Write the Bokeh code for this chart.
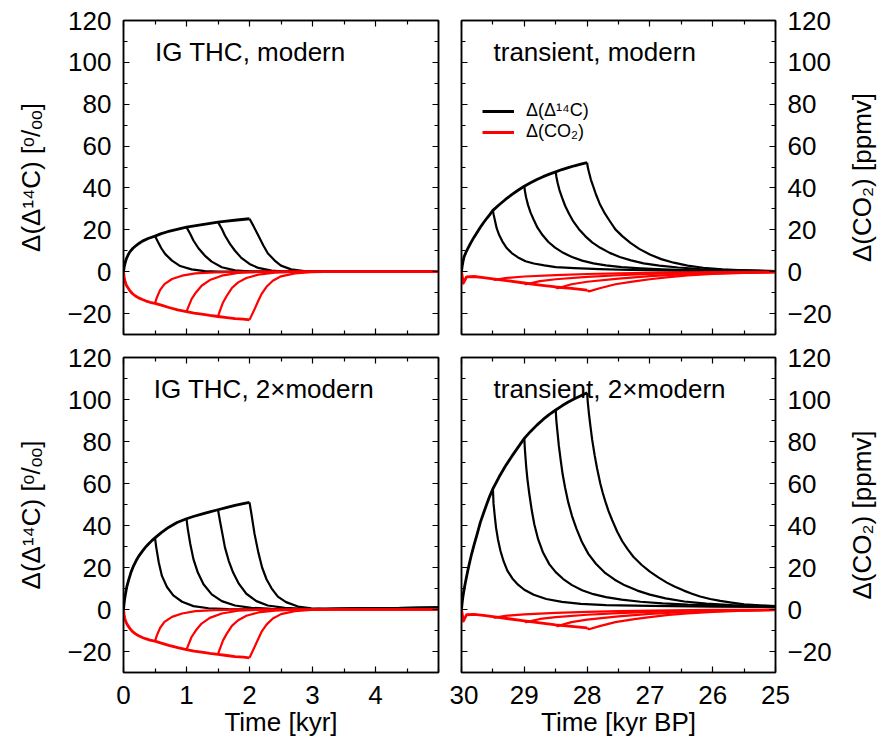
import math

from bokeh.embed import file_html
from bokeh.layouts import column, row
from bokeh.models import (FixedTicker, Label, Legend, LegendItem, LinearAxis,
                          Range1d)
from bokeh.plotting import figure
from bokeh.resources import INLINE

FONT = "Liberation Sans"

# ---------------------------------------------------------------------------
# Interglacial THC runs (time since start, kyr)
# ---------------------------------------------------------------------------
ig_mod_c14_t = [0, 0.01, 0.02, 0.035, 0.05, 0.075, 0.1, 0.15, 0.2, 0.25, 0.3,
                0.4, 0.5, 0.6, 0.7, 0.8, 0.9, 1.0, 1.2, 1.4, 1.5, 1.6, 1.8, 2.0]
ig_mod_c14 = [0, 2.0, 3.5, 5.2, 6.5, 8.1, 9.5, 11.2, 12.5, 13.6, 14.6,
              16.0, 17.0, 18.2, 19.1, 19.9, 20.6, 21.3, 22.3, 23.2, 23.7, 24.0,
              24.7, 25.3]
ig_mod_c14_off05_t = [0.5, 0.55, 0.6, 0.66, 0.77, 0.9, 1.08, 1.29, 1.5, 2.0, 5.0]
ig_mod_c14_off05 = [17.0, 14.1, 11.2, 8.5, 5.3, 2.7, 1.1, 0.3, 0.05, 0, 0]
ig_mod_c14_off10_t = [1.0, 1.06, 1.11, 1.19, 1.29, 1.4, 1.56, 1.77, 2.03, 2.5, 5.0]
ig_mod_c14_off10 = [21.3, 18.0, 14.9, 11.2, 7.7, 4.8, 2.1, 0.6, 0.1, 0, 0]
ig_mod_c14_off15_t = [1.5, 1.56, 1.61, 1.69, 1.77, 1.87, 2.0, 2.14, 2.35, 2.56, 3.0, 5.0]
ig_mod_c14_off15 = [23.7, 20.5, 17.3, 13.3, 10.0, 6.6, 3.7, 1.8, 0.5, 0.1, 0, 0]
ig_mod_c14_off20_t = [2.0, 2.06, 2.14, 2.22, 2.29, 2.4, 2.5, 2.66, 2.87, 3.08, 5.0]
ig_mod_c14_off20 = [25.3, 22.0, 17.3, 12.5, 8.8, 5.3, 2.9, 1.1, 0.3, 0, 0]

ig_2x_c14_t = [0, 0.01, 0.02, 0.03, 0.05, 0.08, 0.12, 0.16, 0.2, 0.24, 0.3,
               0.35, 0.4, 0.45, 0.5, 0.6, 0.72, 0.85, 1.0, 1.12, 1.24, 1.37,
               1.5, 1.63, 1.77, 1.9, 2.0]
ig_2x_c14 = [0, 3.0, 5.3, 7.2, 10.5, 13.9, 17.8, 20.8, 23.2, 25.3, 27.8,
             29.7, 31.3, 32.8, 34.1, 36.6, 39.2, 41.4, 43.2, 44.4, 45.4, 46.5,
             47.5, 48.5, 49.6, 50.4, 51.0]
ig_2x_c14_off05_t = [0.5, 0.52, 0.56, 0.61, 0.69, 0.79, 0.93, 1.11, 1.35, 1.66, 2.2, 3.0, 4.0, 5.0]
ig_2x_c14_off05 = [34.1, 29.6, 22.4, 16.0, 10.7, 6.7, 3.7, 1.6, 0.6, 0.2, 0.1, 0.2, 0.6, 0.9]
ig_2x_c14_off10_t = [1.0, 1.02, 1.06, 1.11, 1.18, 1.27, 1.4, 1.56, 1.77, 2.03, 2.35, 3.0, 4.0, 5.0]
ig_2x_c14_off10 = [43.2, 38.4, 31.2, 24.0, 17.6, 12.0, 7.2, 4.0, 1.9, 0.8, 0.3, 0.2, 0.6, 0.9]
ig_2x_c14_off15_t = [1.5, 1.53, 1.57, 1.61, 1.67, 1.74, 1.83, 1.95, 2.11, 2.29, 2.56, 2.87, 3.0, 4.0, 5.0]
ig_2x_c14_off15 = [47.5, 42.4, 36.0, 29.6, 23.2, 17.6, 12.3, 7.5, 4.0, 1.9, 0.8, 0.3, 0.2, 0.6, 0.9]
ig_2x_c14_off20_t = [2.0, 2.03, 2.08, 2.14, 2.2, 2.27, 2.35, 2.45, 2.58, 2.77, 2.98, 3.2, 4.0, 5.0]
ig_2x_c14_off20 = [51.0, 45.6, 36.0, 27.2, 20.0, 14.4, 10.1, 6.1, 3.5, 1.4, 0.5, 0.3, 0.6, 0.9]

ig_co2_t = [0, 0.01, 0.02, 0.04, 0.06, 0.1, 0.14, 0.19, 0.24, 0.3, 0.35, 0.42,
            0.5, 0.6, 0.72, 0.86, 1.0, 1.12, 1.24, 1.37, 1.5, 1.64, 1.77, 1.9, 2.0]
ig_co2 = [0, -2.5, -4.2, -6.0, -7.2, -9.0, -10.4, -11.6, -12.5, -13.3, -13.9,
          -14.6, -15.1, -16.0, -17.1, -18.2, -19.1, -19.8, -20.3, -20.9, -21.4,
          -21.9, -22.4, -22.7, -23.0]
ig_co2_off05_t = [0.5, 0.53, 0.58, 0.65, 0.77, 0.93, 1.14, 1.45, 1.77, 2.5, 5.0]
ig_co2_off05 = [-15.1, -12.3, -8.8, -5.9, -3.5, -1.9, -0.8, -0.3, -0.1, 0, 0]
ig_co2_off10_t = [1.0, 1.03, 1.08, 1.15, 1.24, 1.37, 1.56, 1.82, 2.14, 2.6, 5.0]
ig_co2_off10 = [-19.1, -16.8, -13.1, -9.9, -6.7, -4.0, -1.9, -0.6, -0.1, 0, 0]
ig_co2_off15_t = [1.5, 1.53, 1.58, 1.64, 1.72, 1.82, 1.95, 2.14, 2.4, 2.72, 3.2, 5.0]
ig_co2_off15 = [-21.4, -18.7, -14.7, -11.5, -7.8, -5.1, -3.0, -1.4, -0.5, -0.1, 0, 0]
ig_co2_off20_t = [2.0, 2.03, 2.08, 2.14, 2.19, 2.27, 2.37, 2.5, 2.72, 2.98, 3.4, 5.0]
ig_co2_off20 = [-23.0, -21.1, -17.9, -13.9, -10.7, -7.2, -4.3, -2.2, -0.8, -0.2, 0, 0]

# ---------------------------------------------------------------------------
# Transient runs (kyr BP)
# ---------------------------------------------------------------------------
tr_mod_c14_t = [30.0, 29.99, 29.98, 29.96, 29.93, 29.9, 29.85, 29.8, 29.75,
                29.7, 29.65, 29.6, 29.55, 29.5, 29.4, 29.3, 29.2, 29.1, 29.0,
                28.9, 28.8, 28.7, 28.6, 28.5, 28.4, 28.3, 28.2, 28.1, 28.0]
tr_mod_c14 = [0, 2.5, 4.3, 7.0, 9.2, 11.0, 13.9, 16.5, 18.9, 21.2, 23.4,
              25.4, 27.3, 29.3, 32.0, 34.5, 36.8, 38.9, 40.8, 42.5, 44.0,
              45.4, 46.6, 47.7, 48.8, 49.7, 50.6, 51.4, 52.1]
tr_mod_c14_off295_t = [29.5, 29.49, 29.47, 29.44, 29.4, 29.35, 29.28, 29.2,
                       29.1, 28.98, 28.85, 28.68, 28.5, 28.2, 27.8, 27.3,
                       26.6, 25.8, 25.0]
tr_mod_c14_off295 = [29.3, 27.5, 24.8, 20.8, 17.5, 14.5, 11.3, 8.9, 6.8, 5.0,
                     3.9, 3.0, 2.2, 1.7, 1.2, 0.8, 0.5, 0.3, 0.2]
tr_mod_c14_off29_t = [29.0, 28.99, 28.97, 28.94, 28.9, 28.85, 28.79, 28.71,
                      28.62, 28.51, 28.38, 28.24, 28.08, 27.9, 27.7, 27.45,
                      27.15, 26.8, 26.3, 25.7, 25.0]
tr_mod_c14_off29 = [40.8, 38.5, 35.3, 31.8, 28.2, 24.8, 21.0, 17.5, 14.3,
                    11.5, 9.0, 7.0, 5.3, 4.0, 3.0, 2.2, 1.6, 1.1, 0.7, 0.4, 0.2]
tr_mod_c14_off285_t = [28.5, 28.49, 28.47, 28.44, 28.4, 28.35, 28.29, 28.22,
                       28.13, 28.03, 27.92, 27.79, 27.64, 27.48, 27.3, 27.1,
                       26.85, 26.55, 26.2, 25.75, 25.3, 25.0]
tr_mod_c14_off285 = [47.7, 45.5, 42.5, 39.0, 35.5, 31.5, 27.8, 24.0, 20.3,
                     17.0, 14.0, 11.4, 9.0, 7.0, 5.4, 4.0, 2.9, 2.0, 1.3, 0.8,
                     0.5, 0.3]
tr_mod_c14_off28_t = [28.0, 27.99, 27.97, 27.94, 27.9, 27.86, 27.8, 27.73,
                      27.65, 27.55, 27.44, 27.31, 27.17, 27.0, 26.82, 26.62,
                      26.4, 26.15, 25.85, 25.5, 25.2, 25.0]
tr_mod_c14_off28 = [52.1, 50.0, 47.5, 44.0, 40.5, 37.0, 32.5, 28.5, 24.7,
                    20.2, 17.0, 13.8, 10.9, 8.2, 6.0, 4.3, 2.9, 1.9, 1.1,
                    0.6, 0.35, 0.25]

tr_2x_c14_t = [30.0, 29.99, 29.98, 29.97, 29.95, 29.93, 29.9, 29.87, 29.84,
               29.8, 29.75, 29.7, 29.65, 29.6, 29.55, 29.5, 29.4, 29.3, 29.2,
               29.1, 29.0, 28.9, 28.8, 28.7, 28.6, 28.5, 28.4, 28.3, 28.2,
               28.1, 28.0]
tr_2x_c14 = [0, 3.0, 5.5, 7.5, 11.0, 14.0, 18.5, 22.5, 26.3, 30.8, 36.0,
             41.5, 45.8, 50.0, 54.0, 57.5, 63.2, 68.3, 72.9, 77.2, 81.5, 84.8,
             87.8, 90.5, 92.9, 95.0, 97.0, 98.8, 100.4, 101.8, 103.2]
tr_2x_c14_off295_t = [29.5, 29.49, 29.47, 29.45, 29.42, 29.38, 29.33, 29.27,
                      29.19, 29.1, 29.0, 28.85, 28.65, 28.4, 28.1, 27.7, 27.0,
                      26.0, 25.0]
tr_2x_c14_off295 = [57.5, 50.4, 44.5, 39.0, 33.5, 28.0, 23.0, 18.5, 14.8,
                    11.8, 9.4, 7.0, 5.0, 3.6, 2.7, 2.1, 1.7, 1.4, 1.2]
tr_2x_c14_off29_t = [29.0, 28.99, 28.97, 28.95, 28.92, 28.88, 28.84, 28.78,
                     28.7, 28.6, 28.5, 28.38, 28.24, 28.08, 27.9, 27.7, 27.45,
                     27.15, 26.8, 26.4, 25.8, 25.0]
tr_2x_c14_off29 = [81.5, 76.0, 68.0, 62.0, 55.0, 47.0, 40.5, 33.5, 27.0,
                   21.5, 17.8, 14.5, 11.6, 9.2, 7.3, 5.9, 4.7, 3.7, 2.9, 2.3,
                   1.8, 1.3]
tr_2x_c14_off285_t = [28.5, 28.49, 28.47, 28.45, 28.42, 28.39, 28.35, 28.3,
                      28.24, 28.17, 28.08, 27.98, 27.86, 27.72, 27.56, 27.4,
                      27.2, 27.0, 26.75, 26.45, 26.1, 25.7, 25.3, 25.0]
tr_2x_c14_off285 = [95.0, 90.0, 84.0, 78.0, 71.0, 64.5, 58.0, 51.0, 44.5,
                    38.5, 32.0, 26.5, 21.8, 17.6, 14.2, 11.5, 9.0, 7.1, 5.3,
                    3.8, 2.8, 2.1, 1.7, 1.5]
tr_2x_c14_off28_t = [28.0, 27.99, 27.97, 27.95, 27.92, 27.88, 27.84, 27.79,
                     27.75, 27.71, 27.66, 27.6, 27.52, 27.44, 27.35, 27.26,
                     27.13, 27.0, 26.86, 26.73, 26.6, 26.46, 26.33, 26.2,
                     26.04, 25.88, 25.7, 25.5, 25.25, 25.0]
tr_2x_c14_off28 = [103.2, 99.0, 93.0, 88.0, 81.0, 73.5, 67.0, 60.0, 55.5,
                   51.5, 47.0, 42.5, 37.0, 32.5, 28.5, 25.0, 21.2, 18.0, 15.2,
                   12.8, 10.8, 9.0, 7.5, 6.2, 5.0, 4.1, 3.3, 2.5, 2.0, 1.6]

tr_co2_t = [30.0, 29.97, 29.92, 29.8, 29.65, 29.5, 29.25, 29.0, 28.75, 28.5, 28.25, 28.0]
tr_co2 = [0, -5.5, -2.5, -2.3, -2.8, -3.4, -4.4, -5.4, -6.4, -7.3, -8.0, -8.8]
tr_co2_off295_t = [29.5, 29.47, 29.3, 29.0, 28.5, 28.0, 27.5, 27.0, 26.0, 25.0]
tr_co2_off295 = [-3.4, -3.9, -3.0, -2.3, -1.6, -1.1, -0.8, -0.5, -0.2, -0.1]
tr_co2_off29_t = [29.0, 28.97, 28.75, 28.5, 28.0, 27.5, 27.0, 26.5, 26.0, 25.0]
tr_co2_off29 = [-5.4, -6.0, -4.5, -3.6, -2.5, -1.7, -1.1, -0.7, -0.4, -0.1]
tr_co2_off285_t = [28.5, 28.47, 28.25, 28.0, 27.5, 27.0, 26.5, 26.0, 25.5, 25.0]
tr_co2_off285 = [-7.3, -7.9, -6.0, -4.8, -3.3, -2.1, -1.3, -0.8, -0.5, -0.2]
tr_co2_off28_t = [28.0, 27.97, 27.8, 27.55, 27.25, 27.0, 26.7, 26.4, 26.0, 25.5, 25.0]
tr_co2_off28 = [-8.8, -9.4, -7.9, -6.0, -4.6, -3.6, -2.6, -1.8, -1.1, -0.6, -0.3]

# tick positions
y_major = [-20, 0, 20, 40, 60, 80, 100, 120]
y_minor = [-30, -10, 10, 30, 50, 70, 90, 110]
ig_x_major = [0, 1, 2, 3, 4]
ig_x_minor = [0.5, 1.5, 2.5, 3.5, 4.5, 5]
tr_x_major = [30, 29, 28, 27, 26, 25]
tr_x_minor = [29.5, 28.5, 27.5, 26.5, 25.5]

panel_titles = ["IG THC, modern", "transient, modern",
                "IG THC, 2\u00d7modern", "transient, 2\u00d7modern"]
c14_label = "\u0394(\u0394\u00b9\u2074C) [\u1d52/\u2092\u2092]"
co2_label = "\u0394(CO\u2082) [ppmv]"
legend_labels = ["\u0394(\u0394\u00b9\u2074C)", "\u0394(CO\u2082)"]

BLACK = "#000000"
RED = "#ff0000"


def make_axis(ticks, minor, show_labels, label=None):
    ax = LinearAxis(ticker=FixedTicker(ticks=ticks, minor_ticks=minor))
    ax.axis_line_color = BLACK
    ax.axis_line_width = 1.5
    ax.major_tick_in = 6
    ax.major_tick_out = 0
    ax.minor_tick_in = 4
    ax.minor_tick_out = 0
    ax.major_tick_line_color = BLACK
    ax.minor_tick_line_color = BLACK
    ax.major_tick_line_width = 1.2
    ax.minor_tick_line_width = 1.2
    if show_labels:
        ax.major_label_text_font = FONT
        ax.major_label_text_font_size = "26px"
        ax.major_label_text_color = BLACK
        ax.major_label_standoff = 12
    else:
        ax.major_label_text_font_size = "0px"
        ax.major_label_standoff = 0
        ax.major_label_text_alpha = 0
    if label is not None:
        ax.axis_label = label
        ax.axis_label_text_font = FONT
        ax.axis_label_text_font_size = "26px"
        ax.axis_label_text_font_style = "normal"
        ax.axis_label_text_color = BLACK
        ax.axis_label_standoff = 18
    return ax


def make_panel(x_range, frame_w, frame_h, borders):
    left, right, top, bottom = borders
    p = figure(frame_width=frame_w, frame_height=frame_h,
               x_range=x_range, y_range=Range1d(-30, 120),
               x_axis_location=None, y_axis_location=None,
               output_backend="svg", toolbar_location=None,
               min_border_left=left, min_border_right=right,
               min_border_top=top, min_border_bottom=bottom)
    p.grid.visible = False
    p.outline_line_color = BLACK
    p.outline_line_width = 1.5
    p.background_fill_color = "white"
    p.border_fill_color = "white"
    return p


def label_strip(frame_h, top, bottom, text):
    # narrow strip to the right of a panel carrying its right-hand axis title
    s = figure(frame_width=41, frame_height=frame_h,
               x_range=Range1d(0, 41), y_range=Range1d(0, frame_h),
               x_axis_location=None, y_axis_location=None,
               output_backend="svg", toolbar_location=None,
               min_border_left=0, min_border_right=0,
               min_border_top=top, min_border_bottom=bottom)
    s.grid.visible = False
    s.outline_line_color = None
    s.add_layout(Label(x=24, y=frame_h / 2, text=text, text_font=FONT,
                       text_font_size="26px", text_color=BLACK,
                       angle=math.pi / 2, text_align="center",
                       text_baseline="middle"))
    return s


def add_title(p, x, y, text):
    p.add_layout(Label(x=x, y=y, text=text, text_font=FONT,
                       text_font_size="26px", text_color=BLACK,
                       text_baseline="middle", text_align="left"))


def draw(p, series, color):
    rs = []
    for i, (xs, ys) in enumerate(series):
        width = 2.8 if i == 0 else 2.2
        rs.append(p.line(xs, ys, line_color=color, line_width=width,
                         line_join="round"))
    return rs


# --- top-left: IG THC, modern -------------------------------------------
p1 = make_panel(Range1d(0, 5), 315, 314, (123, 11, 20, 5))
p1.add_layout(make_axis(y_major, y_minor, True, c14_label), "left")
p1.add_layout(make_axis(y_major, y_minor, False), "right")
p1.add_layout(make_axis(ig_x_major, ig_x_minor, False), "below")
p1.add_layout(make_axis(ig_x_major, ig_x_minor, False), "above")
draw(p1, [(ig_mod_c14_t, ig_mod_c14), (ig_mod_c14_off05_t, ig_mod_c14_off05),
          (ig_mod_c14_off10_t, ig_mod_c14_off10), (ig_mod_c14_off15_t, ig_mod_c14_off15),
          (ig_mod_c14_off20_t, ig_mod_c14_off20)], BLACK)
draw(p1, [(ig_co2_t, ig_co2), (ig_co2_off05_t, ig_co2_off05),
          (ig_co2_off10_t, ig_co2_off10), (ig_co2_off15_t, ig_co2_off15),
          (ig_co2_off20_t, ig_co2_off20)], RED)
add_title(p1, 0.5, 105, panel_titles[0])

# --- top-right: transient, modern ---------------------------------------
p2 = make_panel(Range1d(30, 25), 314, 314, (12, 62, 20, 5))
p2.add_layout(make_axis(y_major, y_minor, True), "right")
p2.add_layout(make_axis(y_major, y_minor, False), "left")
p2.add_layout(make_axis(tr_x_major, tr_x_minor, False), "below")
p2.add_layout(make_axis(tr_x_major, tr_x_minor, False), "above")
blk = draw(p2, [(tr_mod_c14_t, tr_mod_c14), (tr_mod_c14_off295_t, tr_mod_c14_off295),
                (tr_mod_c14_off29_t, tr_mod_c14_off29), (tr_mod_c14_off285_t, tr_mod_c14_off285),
                (tr_mod_c14_off28_t, tr_mod_c14_off28)], BLACK)
red = draw(p2, [(tr_co2_t, tr_co2), (tr_co2_off295_t, tr_co2_off295),
                (tr_co2_off29_t, tr_co2_off29), (tr_co2_off285_t, tr_co2_off285),
                (tr_co2_off28_t, tr_co2_off28)], RED)
add_title(p2, 29.49, 105, panel_titles[1])
legend = Legend(items=[LegendItem(label=legend_labels[0], renderers=[blk[0]]),
                       LegendItem(label=legend_labels[1], renderers=[red[0]])],
                location=(17, 188), orientation="vertical",
                border_line_alpha=0, background_fill_alpha=0,
                label_text_font=FONT, label_text_font_size="18px",
                label_text_color=BLACK, glyph_width=32, glyph_height=18,
                label_height=18, label_standoff=12, padding=4, spacing=0,
                margin=0)
p2.add_layout(legend)
s2 = label_strip(314, 20, 5, co2_label)

# --- bottom-left: IG THC, 2x modern -------------------------------------
p3 = make_panel(Range1d(0, 5), 315, 315, (123, 11, 18, 68))
p3_bottom = make_axis(ig_x_major, ig_x_minor, True, "Time [kyr]")
p3_bottom.major_label_standoff = 13
p3_bottom.axis_label_standoff = 0
p3.add_layout(p3_bottom, "below")
p3.add_layout(make_axis(y_major, y_minor, True, c14_label), "left")
p3.add_layout(make_axis(y_major, y_minor, False), "right")
p3.add_layout(make_axis(ig_x_major, ig_x_minor, False), "above")
draw(p3, [(ig_2x_c14_t, ig_2x_c14), (ig_2x_c14_off05_t, ig_2x_c14_off05),
          (ig_2x_c14_off10_t, ig_2x_c14_off10), (ig_2x_c14_off15_t, ig_2x_c14_off15),
          (ig_2x_c14_off20_t, ig_2x_c14_off20)], BLACK)
draw(p3, [(ig_co2_t, ig_co2), (ig_co2_off05_t, ig_co2_off05),
          (ig_co2_off10_t, ig_co2_off10), (ig_co2_off15_t, ig_co2_off15),
          (ig_co2_off20_t, ig_co2_off20)], RED)
add_title(p3, 0.48, 105, panel_titles[2])

# --- bottom-right: transient, 2x modern ---------------------------------
p4 = make_panel(Range1d(30, 25), 314, 315, (12, 62, 18, 68))
p4_bottom = make_axis(tr_x_major, tr_x_minor, True, "Time [kyr BP]")
p4_bottom.major_label_standoff = 13
p4_bottom.axis_label_standoff = 0
p4.add_layout(p4_bottom, "below")
p4.add_layout(make_axis(y_major, y_minor, True), "right")
p4.add_layout(make_axis(y_major, y_minor, False), "left")
p4.add_layout(make_axis(tr_x_major, tr_x_minor, False), "above")
add_title(p4, 29.49, 105, panel_titles[3])
draw(p4, [(tr_2x_c14_t, tr_2x_c14), (tr_2x_c14_off295_t, tr_2x_c14_off295),
          (tr_2x_c14_off29_t, tr_2x_c14_off29), (tr_2x_c14_off285_t, tr_2x_c14_off285),
          (tr_2x_c14_off28_t, tr_2x_c14_off28)], BLACK)
draw(p4, [(tr_co2_t, tr_co2), (tr_co2_off295_t, tr_co2_off295),
          (tr_co2_off29_t, tr_co2_off29), (tr_co2_off285_t, tr_co2_off285),
          (tr_co2_off28_t, tr_co2_off28)], RED)
s4 = label_strip(315, 18, 68, co2_label)

layout = column(row(p1, p2, s2), row(p3, p4, s4))

with open("out.html", "w") as f:
    f.write(file_html(layout, INLINE))
